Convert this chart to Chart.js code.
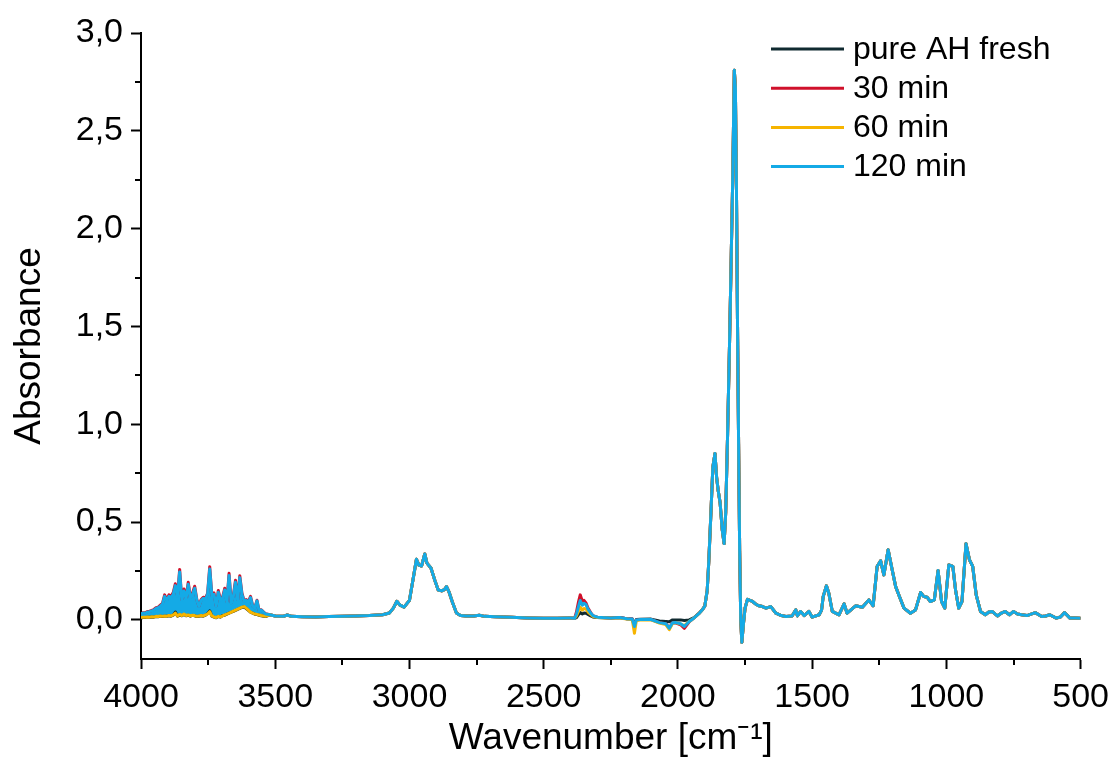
<!DOCTYPE html>
<html>
<head>
<meta charset="utf-8">
<script src="https://cdn.jsdelivr.net/npm/chart.js@4/dist/chart.umd.min.js"></script>
<style>
  html, body { margin: 0; padding: 0; background: #fff; }
  #wrap { width: 1117px; height: 765px; }
</style>
</head>
<body>
<div id="wrap"><canvas id="ftir_chart" width="1117" height="765"></canvas></div>
<script>
(function() {
  const seriesLabels = ['pure AH fresh', '30 min', '60 min', '120 min'];
  const seriesColors = ['#102a30', '#d0112b', '#f6b400', '#14aae6'];

  const xTickValues = [4000, 3500, 3000, 2500, 2000, 1500, 1000, 500];
  const xMinorTicks = [3750, 3250, 2750, 2250, 1750, 1250, 750];
  const yTickValues = [0, 0.5, 1.0, 1.5, 2.0, 2.5, 3.0];
  const yMinorTicks = [0.25, 0.75, 1.25, 1.75, 2.25, 2.75];

  // 4000-3536 cm-1: noisy water vapour region, differs per series
  const wnHigh = [4000, 3992, 3984, 3976, 3968, 3960, 3952, 3944, 3936, 3928,
    3920, 3912, 3904, 3896, 3888, 3880, 3872, 3864, 3856, 3848,
    3840, 3832, 3824, 3816, 3808, 3800, 3792, 3784, 3776, 3768,
    3760, 3752, 3744, 3736, 3728, 3720, 3712, 3704, 3696, 3688,
    3680, 3672, 3664, 3656, 3648, 3640, 3632, 3624, 3616, 3608,
    3600, 3592, 3584, 3576, 3568, 3560, 3552, 3544, 3536];
  const freshHigh = [0.01, 0.012, 0.012, 0.014, 0.013, 0.015, 0.014, 0.017, 0.016, 0.019,
    0.017, 0.019, 0.018, 0.021, 0.019, 0.024, 0.04, 0.019, 0.026, 0.021,
    0.028, 0.021, 0.024, 0.019, 0.023, 0.021, 0.017, 0.019, 0.021, 0.019,
    0.024, 0.032, 0.046, 0.019, 0.014, 0.011, 0.017, 0.014, 0.022, 0.024,
    0.029, 0.034, 0.039, 0.044, 0.049, 0.054, 0.059, 0.064, 0.066, 0.058,
    0.049, 0.039, 0.034, 0.029, 0.027, 0.024, 0.021, 0.019, 0.017];
  const min30High = [0.032, 0.037, 0.036, 0.043, 0.044, 0.048, 0.053, 0.062, 0.065, 0.075,
    0.085, 0.128, 0.104, 0.128, 0.12, 0.14, 0.185, 0.124, 0.258, 0.104,
    0.158, 0.114, 0.192, 0.114, 0.138, 0.172, 0.104, 0.07, 0.104, 0.116,
    0.11, 0.136, 0.272, 0.124, 0.138, 0.072, 0.15, 0.104, 0.116, 0.162,
    0.094, 0.238, 0.088, 0.126, 0.203, 0.104, 0.226, 0.136, 0.098, 0.104,
    0.094, 0.12, 0.072, 0.062, 0.1, 0.047, 0.052, 0.041, 0.031];
  const min60High = [0.012, 0.014, 0.013, 0.015, 0.014, 0.016, 0.015, 0.018, 0.017, 0.02,
    0.018, 0.02, 0.019, 0.022, 0.02, 0.025, 0.035, 0.02, 0.028, 0.022,
    0.03, 0.022, 0.025, 0.02, 0.024, 0.022, 0.018, 0.02, 0.022, 0.02,
    0.025, 0.03, 0.042, 0.02, 0.015, 0.012, 0.018, 0.015, 0.02, 0.025,
    0.03, 0.035, 0.04, 0.045, 0.05, 0.055, 0.06, 0.065, 0.068, 0.06,
    0.05, 0.04, 0.035, 0.03, 0.028, 0.025, 0.022, 0.02, 0.018];
  const min120High = [0.03, 0.035, 0.034, 0.04, 0.042, 0.045, 0.05, 0.058, 0.062, 0.07,
    0.08, 0.12, 0.1, 0.12, 0.115, 0.13, 0.175, 0.12, 0.245, 0.1,
    0.148, 0.11, 0.182, 0.11, 0.13, 0.162, 0.1, 0.068, 0.1, 0.11,
    0.105, 0.13, 0.26, 0.12, 0.13, 0.07, 0.141, 0.1, 0.11, 0.153,
    0.09, 0.227, 0.085, 0.12, 0.193, 0.1, 0.216, 0.13, 0.095, 0.1,
    0.09, 0.114, 0.07, 0.06, 0.097, 0.045, 0.05, 0.04, 0.03];

  // 3520-2410 cm-1: C-H region, same for all series
  const wnMid = [3520, 3500, 3470, 3455, 3440, 3400, 3350, 3300, 3250, 3200,
    3150, 3100, 3075, 3060, 3047, 3035, 3020, 3000, 2985, 2974,
    2965, 2955, 2943, 2935, 2920, 2905, 2893, 2880, 2870, 2862,
    2852, 2840, 2825, 2810, 2790, 2760, 2740, 2720, 2680, 2620,
    2560, 2500, 2450, 2410];
  const absMid = [0.026, 0.02, 0.018, 0.025, 0.018, 0.016, 0.015, 0.017, 0.018, 0.02,
    0.022, 0.026, 0.035, 0.06, 0.095, 0.075, 0.065, 0.1, 0.22, 0.31,
    0.28, 0.275, 0.337, 0.29, 0.265, 0.2, 0.153, 0.148, 0.155, 0.17,
    0.14, 0.09, 0.035, 0.022, 0.02, 0.02, 0.024, 0.018, 0.016, 0.013,
    0.01, 0.008, 0.008, 0.01];

  // 2400-1910 cm-1: CO2 band and baseline, differs per series
  const wnCo2 = [2400, 2385, 2378, 2370, 2364, 2356, 2350, 2342, 2335, 2325,
    2317, 2300, 2280, 2250, 2218, 2190, 2170, 2162, 2155, 2140,
    2100, 2069, 2045, 2032, 2020, 2007, 1990, 1976, 1958, 1940,
    1920, 1910];
  const freshCo2 = [0.01, 0.008, 0.012, 0.028, 0.037, 0.03, 0.035, 0.034, 0.028, 0.02,
    0.015, 0.012, 0.011, 0.01, 0.012, 0.006, 0.004, -0.02, 0.002, 0.003,
    0.004, -0.006, -0.008, -0.01, 0.0, 0.0, 0.0, -0.003, 0.0, 0.012,
    0.036, 0.05];
  const min30Co2 = [0.01, 0.008, 0.04, 0.095, 0.128, 0.095, 0.1, 0.085, 0.06, 0.037,
    0.022, 0.014, 0.012, 0.01, 0.012, 0.006, 0.004, -0.03, 0.0, 0.002,
    0.002, -0.014, -0.02, -0.04, -0.015, -0.016, -0.025, -0.043, -0.01, 0.01,
    0.035, 0.05];
  const min60Co2 = [0.01, 0.008, 0.02, 0.045, 0.065, 0.05, 0.058, 0.055, 0.04, 0.028,
    0.018, 0.012, 0.011, 0.009, 0.01, 0.004, 0.0, -0.068, -0.005, 0.0,
    0.0, -0.016, -0.024, -0.05, -0.018, -0.014, -0.022, -0.03, -0.008, 0.01,
    0.035, 0.05];
  const min120Co2 = [0.01, 0.008, 0.03, 0.07, 0.099, 0.075, 0.085, 0.077, 0.055, 0.035,
    0.022, 0.014, 0.012, 0.01, 0.012, 0.006, 0.004, -0.034, 0.0, 0.002,
    0.002, -0.014, -0.02, -0.043, -0.015, -0.014, -0.02, -0.034, -0.008, 0.01,
    0.035, 0.05];

  // 1900-500 cm-1: carbonyl and fingerprint region, same for all series
  const wnLow = [1900, 1891, 1885, 1877, 1870, 1862, 1856, 1850, 1843, 1835,
    1828, 1822, 1815, 1808, 1803, 1796, 1790, 1786, 1782, 1778,
    1774, 1770, 1766, 1762, 1756, 1750, 1741, 1732, 1722, 1710,
    1698, 1685, 1672, 1654, 1635, 1615, 1598, 1575, 1561, 1555,
    1543, 1530, 1512, 1500, 1474, 1465, 1459, 1447, 1438, 1425,
    1400, 1381, 1370, 1338, 1313, 1289, 1273, 1258, 1245, 1233,
    1217, 1202, 1189, 1175, 1158, 1134, 1115, 1096, 1084, 1072,
    1060, 1045, 1031, 1018, 1006, 991, 976, 966, 954, 942,
    927, 914, 902, 889, 873, 855, 842, 830, 810, 795,
    781, 765, 750, 735, 720, 700, 669, 645, 630, 615,
    591, 575, 560, 540, 520, 500];
  const absLow = [0.07, 0.15, 0.3, 0.55, 0.78, 0.85, 0.73, 0.66, 0.6, 0.46,
    0.39, 0.55, 0.95, 1.4, 1.75, 2.25, 2.81, 2.72, 2.2, 1.5,
    0.9, 0.35, 0.0, -0.115, -0.02, 0.06, 0.105, 0.1, 0.094, 0.08,
    0.072, 0.068, 0.06, 0.068, 0.034, 0.022, 0.017, 0.02, 0.051, 0.02,
    0.043, 0.022, 0.043, 0.014, 0.026, 0.05, 0.119, 0.174, 0.136, 0.043,
    0.026, 0.082, 0.034, 0.072, 0.065, 0.102, 0.072, 0.273, 0.302, 0.23,
    0.358, 0.256, 0.17, 0.119, 0.06, 0.034, 0.051, 0.14, 0.119, 0.116,
    0.094, 0.102, 0.252, 0.094, 0.06, 0.281, 0.273, 0.153, 0.06, 0.094,
    0.389, 0.307, 0.273, 0.128, 0.043, 0.026, 0.04, 0.043, 0.02, 0.035,
    0.043, 0.026, 0.043, 0.03, 0.026, 0.022, 0.037, 0.017, 0.02, 0.026,
    0.009, 0.015, 0.037, 0.009, 0.01, 0.008];

  const noiseEdge = 3528; // end of the filled noisy part of the 120 min trace

  const fontFamily = "'Liberation Sans', Arial, sans-serif";

  // join the regions into {x, y} points
  const toPoints = (...parts) => parts.flatMap(([wn, abs]) => wn.map((x, i) => ({ x: x, y: abs[i] })));

  const seriesData = [
    toPoints([wnHigh, freshHigh], [wnMid, absMid], [wnCo2, freshCo2], [wnLow, absLow]),
    toPoints([wnHigh, min30High], [wnMid, absMid], [wnCo2, min30Co2], [wnLow, absLow]),
    toPoints([wnHigh, min60High], [wnMid, absMid], [wnCo2, min60Co2], [wnLow, absLow]),
    toPoints([wnHigh, min120High], [wnMid, absMid], [wnCo2, min120Co2], [wnLow, absLow])
  ];

  const fmtComma = (v) => v.toFixed(1).replace('.', ',');

  // legend drawn inside the plot, top right
  const insideLegend = {
    id: 'insideLegend',
    afterDraw(chart) {
      const ctx = chart.ctx;
      const x0 = 771;
      ctx.save();
      chart.data.datasets.forEach((ds, i) => {
        const y = 49 + i * 39.2;
        ctx.strokeStyle = ds.borderColor;
        ctx.lineWidth = 3;
        ctx.beginPath();
        ctx.moveTo(x0, y);
        ctx.lineTo(x0 + 73, y);
        ctx.stroke();
        ctx.fillStyle = '#000';
        ctx.font = '32px ' + fontFamily;
        ctx.textBaseline = 'middle';
        ctx.textAlign = 'left';
        ctx.fillText(ds.label, x0 + 82, y + 1);
      });
      ctx.restore();
    }
  };

  // short minor tick marks on both axes
  const minorTicks = {
    id: 'minorTicks',
    afterDraw(chart) {
      const ctx = chart.ctx;
      const area = chart.chartArea;
      const xs = chart.scales.x;
      const ys = chart.scales.y;
      ctx.save();
      ctx.strokeStyle = '#000';
      ctx.lineWidth = 2;
      ctx.beginPath();
      xMinorTicks.forEach(v => {
        const px = Math.round(xs.getPixelForValue(v));
        ctx.moveTo(px, area.bottom);
        ctx.lineTo(px, area.bottom + 6);
      });
      yMinorTicks.forEach(v => {
        const py = Math.round(ys.getPixelForValue(v));
        ctx.moveTo(area.left, py);
        ctx.lineTo(area.left - 6, py);
      });
      ctx.stroke();
      ctx.restore();
    }
  };

  const datasets = seriesLabels.map((label, i) => ({
    label: label,
    data: seriesData[i],
    borderColor: seriesColors[i],
    borderWidth: 3,
    pointRadius: 0,
    tension: 0,
    borderJoinStyle: 'round',
    order: seriesLabels.length - i, // later series drawn on top
    fill: false
  }));

  // the 120 min trace is densely noisy above 3500 cm-1; fill it down to the 60 min trace there
  datasets[3].fill = 2;
  datasets[3].backgroundColor = (context) => {
    const chart = context.chart;
    const area = chart.chartArea;
    if (!area || !chart.scales.x) return 'rgba(0,0,0,0)';
    const edge = chart.scales.x.getPixelForValue(noiseEdge);
    const g = chart.ctx.createLinearGradient(area.left, 0, edge, 0);
    g.addColorStop(0, seriesColors[3]);
    g.addColorStop(0.995, seriesColors[3]);
    g.addColorStop(1, 'rgba(20,170,230,0)');
    return g;
  };

  new Chart(document.getElementById('ftir_chart'), {
    type: 'line',
    data: { datasets: datasets },
    plugins: [insideLegend, minorTicks],
    options: {
      responsive: false,
      devicePixelRatio: 1,
      animation: false,
      layout: { padding: { top: 33, right: 35, bottom: 0, left: 0 } },
      plugins: {
        legend: { display: false },
        tooltip: { enabled: false },
        filler: { drawTime: 'beforeDatasetsDraw' }
      },
      scales: {
        x: {
          type: 'linear',
          reverse: true,
          min: 500,
          max: 4000,
          afterBuildTicks: (s) => { s.ticks = xTickValues.map(v => ({ value: v })); },
          afterFit: (s) => { s.height = 106; },
          grid: { drawOnChartArea: false, drawTicks: true, tickLength: 10, tickWidth: 2, tickColor: '#000' },
          border: { display: true, color: '#000', width: 2 },
          ticks: {
            color: '#000',
            font: { family: fontFamily, size: 34 },
            padding: 8,
            maxRotation: 0,
            autoSkip: false,
            callback: (v) => String(v)
          },
          title: {
            display: true,
            text: 'Wavenumber [cm⁻¹]',
            color: '#000',
            font: { family: fontFamily, size: 37 },
            padding: { top: 0, bottom: 4 }
          }
        },
        y: {
          type: 'linear',
          min: -0.2,
          max: 3.0,
          afterBuildTicks: (s) => { s.ticks = yTickValues.map(v => ({ value: v })); },
          afterFit: (s) => { s.width = 141; },
          grid: { drawOnChartArea: false, drawTicks: true, tickLength: 10, tickWidth: 2, tickColor: '#000' },
          border: { display: true, color: '#000', width: 2 },
          ticks: {
            color: '#000',
            font: { family: fontFamily, size: 34 },
            padding: 8,
            callback: (v) => fmtComma(v)
          },
          title: {
            display: true,
            text: 'Absorbance',
            color: '#000',
            font: { family: fontFamily, size: 37 },
            padding: { top: 8, bottom: 0 }
          }
        }
      }
    }
  });
})();
</script>
</body>
</html>
